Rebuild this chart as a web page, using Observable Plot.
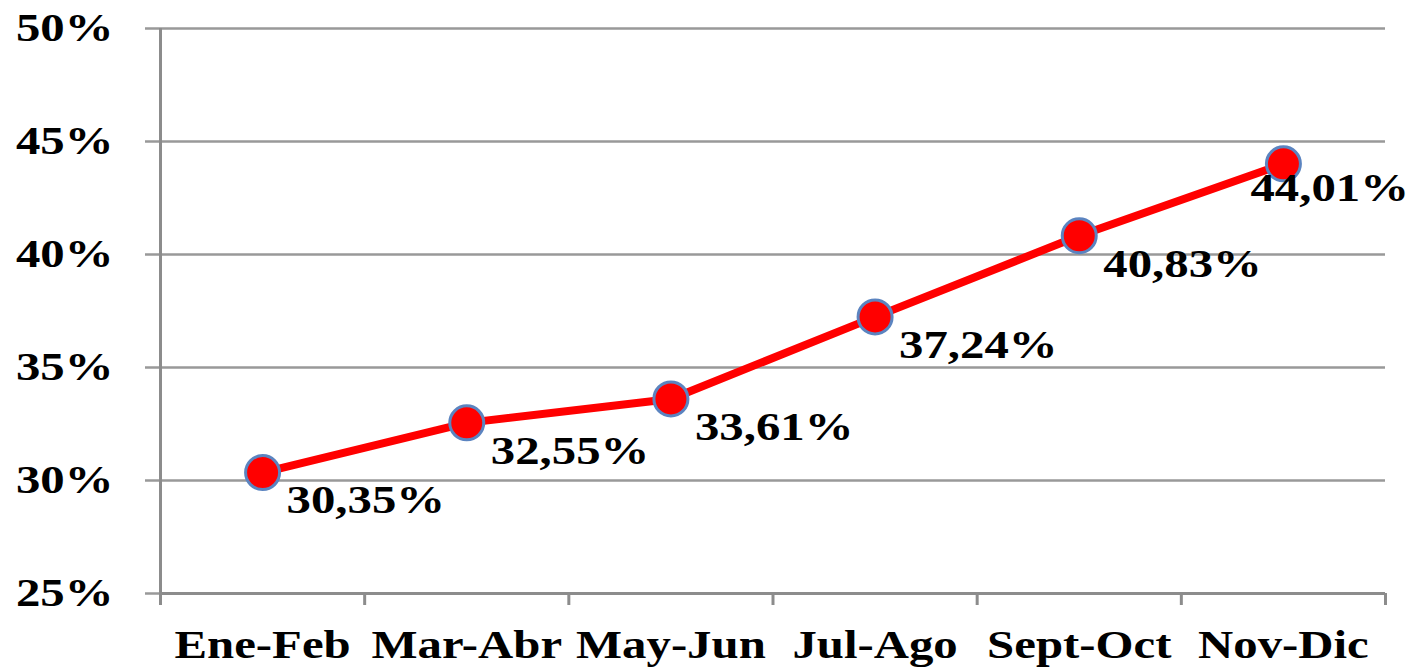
<!DOCTYPE html>
<html>
<head>
<meta charset="utf-8">
<script src="https://cdn.jsdelivr.net/npm/d3@7"></script>
<script src="https://cdn.jsdelivr.net/npm/@observablehq/plot@0.6"></script>
<style>
  html, body { margin: 0; padding: 0; background: #fff; }
  svg { display: block; }
</style>
</head>
<body>
<div id="chart"></div>
<script>
const categories = ["Ene-Feb", "Mar-Abr", "May-Jun", "Jul-Ago", "Sept-Oct", "Nov-Dic"];
const values = [30.35, 32.55, 33.61, 37.24, 40.83, 44.01];
const valueLabels = ["30,35%", "32,55%", "33,61%", "37,24%", "40,83%", "44,01%"];
const yTicks = [25, 30, 35, 40, 45, 50];
const yTickLabels = ["25%", "30%", "35%", "40%", "45%", "50%"];

const data = categories.map((c, i) => ({ cat: c, x: i + 0.5, v: values[i], label: valueLabels[i] }));
const font = "'Liberation Serif', 'Times New Roman', serif";
const axisGray = "#8c8c8c";
const gridGray = "#999999";

const chart = Plot.plot({
  width: 1419,
  height: 669,
  marginLeft: 160,
  marginRight: 34,
  marginTop: 28,
  marginBottom: 76,
  style: { fontFamily: font, fontSize: "40px", fontWeight: "bold", color: "#000", background: "#fff", overflow: "visible" },
  x: { type: "linear", domain: [0, categories.length] },
  y: { domain: [25, 50] },
  marks: [
    Plot.ruleY(yTicks.slice(1), { stroke: gridGray, strokeWidth: 2.5 }),
    Plot.axisY({
      ticks: yTicks,
      tickFormat: (d) => yTickLabels[yTicks.indexOf(d)],
      tickSize: 15, tickPadding: 32,
      stroke: gridGray, strokeWidth: 2.5,
      fontSize: 40, fontWeight: "bold", label: null
    }),
    Plot.axisX({
      ticks: d3.range(0, categories.length + 1),
      tickFormat: () => "",
      tickSize: 12, stroke: axisGray, strokeWidth: 3, label: null
    }),
    Plot.axisX({
      ticks: data.map((d) => d.x),
      tickFormat: (d) => categories[Math.floor(d)],
      tickSize: 0, tickPadding: 36,
      fontSize: 40, fontWeight: "bold", label: null
    }),
    Plot.ruleY([25], { stroke: axisGray, strokeWidth: 3 }),
    Plot.ruleX([0], { stroke: axisGray, strokeWidth: 3 }),
    Plot.line(data, { x: "x", y: "v", stroke: "#ff0000", strokeWidth: 8 }),
    Plot.dot(data, { x: "x", y: "v", r: 17, fill: "#ff0000", stroke: "#5b84c0", strokeWidth: 3 }),
    Plot.text(data.slice(0, 5), { x: "x", y: "v", text: "label", textAnchor: "start", dx: 24, dy: 28, fontSize: 40, fontWeight: "bold", fill: "#000" }),
    Plot.text(data.slice(5), { x: "x", y: "v", text: "label", textAnchor: "start", dx: -33, dy: 24, fontSize: 40, fontWeight: "bold", fill: "#000" })
  ]
});

// Horizontally stretch text (the reference type is wide), around each text's anchor.
// Only numeric x/y attributes are moved into the transform; em offsets stay as they are.
chart.querySelectorAll("text").forEach((t) => {
  let x = 0, y = 0;
  const ax = t.getAttribute("x"), ay = t.getAttribute("y");
  if (ax != null && /^-?[\d.]+$/.test(ax.trim())) { x = +ax; t.removeAttribute("x"); }
  if (ay != null && /^-?[\d.]+$/.test(ay.trim())) { y = +ay; t.removeAttribute("y"); }
  const tr = t.getAttribute("transform") || "";
  t.setAttribute("transform", `${tr} translate(${x},${y}) scale(1.22,1)`);
});

document.getElementById("chart").appendChild(chart);
</script>
</body>
</html>
